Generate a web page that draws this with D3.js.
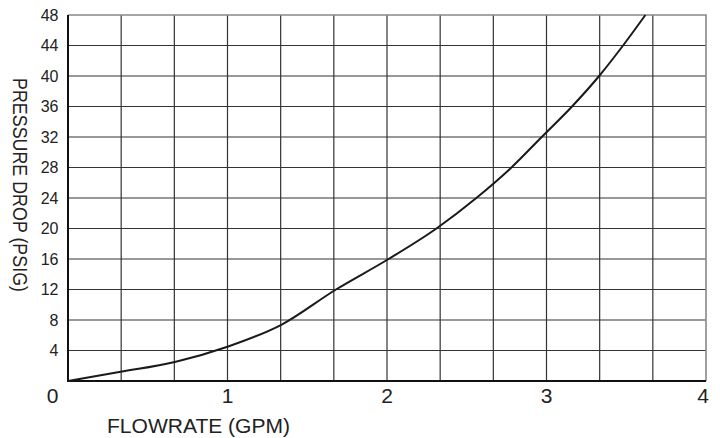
<!DOCTYPE html>
<html>
<head>
<meta charset="utf-8">
<script src="https://cdn.jsdelivr.net/npm/d3@7"></script>
<style>
  body { margin: 0; background: #fff; }
  svg { display: block; font-family: "Liberation Sans", Arial, sans-serif; }
</style>
</head>
<body>
<svg id="chart" width="720" height="438"></svg>
<script>
// Flow (GPM) vs pressure drop (PSIG)
const flowGpm = [0, 0.33, 0.67, 1.0, 1.34, 1.68, 2.01, 2.31, 2.56, 2.78, 2.97, 3.16, 3.33, 3.48, 3.62];
const dropPsig = [0, 1.2, 2.5, 4.5, 7.4, 12, 16, 20, 24, 28, 32, 36, 40, 44, 48];
const xTickLabels = [0, 1, 2, 3, 4];
const yTickLabels = [0, 4, 8, 12, 16, 20, 24, 28, 32, 36, 40, 44, 48];
const xGrid = [1/3, 2/3, 1, 4/3, 5/3, 2, 7/3, 8/3, 3, 10/3, 11/3];

const svg = d3.select("#chart");
const margin = {top: 15, right: 14, bottom: 57, left: 68};
const width = 720 - margin.left - margin.right;
const height = 438 - margin.top - margin.bottom;

const x = d3.scaleLinear().domain([0, 4]).range([margin.left, margin.left + width]);
const y = d3.scaleLinear().domain([0, 48]).range([margin.top + height, margin.top]);

// grid
const grid = svg.append("g");
grid.selectAll("line.v")
  .data(xGrid)
  .join("line")
    .attr("x1", d => x(d)).attr("x2", d => x(d))
    .attr("y1", y(0)).attr("y2", y(48))
    .attr("stroke", "#333").attr("stroke-width", 1.2);
grid.selectAll("line.h")
  .data(yTickLabels.filter(d => d > 0 && d < 48))
  .join("line")
    .attr("x1", x(0)).attr("x2", x(4))
    .attr("y1", d => y(d)).attr("y2", d => y(d))
    .attr("stroke", "#333").attr("stroke-width", 1.2);

// top and right border (lighter)
svg.append("path")
  .attr("d", `M${x(0)},${y(48)}H${x(4)}V${y(0)}`)
  .attr("fill", "none").attr("stroke", "#888").attr("stroke-width", 1.6);

// left and bottom axes
svg.append("path")
  .attr("d", `M${x(0)},${y(48)}V${y(0)}H${x(4)}`)
  .attr("fill", "none").attr("stroke", "#111").attr("stroke-width", 2);

// y tick labels
svg.append("g")
  .selectAll("text")
  .data(yTickLabels.filter(d => d > 0))
  .join("text")
    .attr("x", 58.5)
    .attr("y", d => y(d))
    .attr("dy", "0.36em")
    .attr("text-anchor", "end")
    .style("font-size", "16px")
    .attr("fill", "#222")
    .text(d => d);

// x tick labels (0 sits left of the corner)
svg.append("g")
  .selectAll("text")
  .data(xTickLabels)
  .join("text")
    .attr("x", d => d === 0 ? x(0) - 15.5 : x(d) - (d === 4 ? 3 : 0))
    .attr("y", 402.5)
    .attr("text-anchor", "middle")
    .style("font-size", "21px")
    .attr("fill", "#222")
    .text(d => d);

// axis titles
svg.append("text")
  .attr("x", 107).attr("y", 433)
  .style("font-size", "20px")
  .attr("textLength", 183)
  .attr("lengthAdjust", "spacingAndGlyphs")
  .attr("fill", "#222")
  .text("FLOWRATE (GPM)");

svg.append("text")
  .attr("transform", "translate(13,78) rotate(90)")
  .style("font-size", "20px")
  .attr("textLength", 214)
  .attr("lengthAdjust", "spacingAndGlyphs")
  .attr("fill", "#222")
  .text("PRESSURE DROP (PSIG)");

// curve
const line = d3.line()
  .x((d, i) => x(flowGpm[i]))
  .y(d => y(d))
  .curve(d3.curveMonotoneX);

svg.append("path")
  .datum(dropPsig)
  .attr("d", line)
  .attr("fill", "none")
  .attr("stroke", "#1a1a1a")
  .attr("stroke-width", 2);
</script>
</body>
</html>
